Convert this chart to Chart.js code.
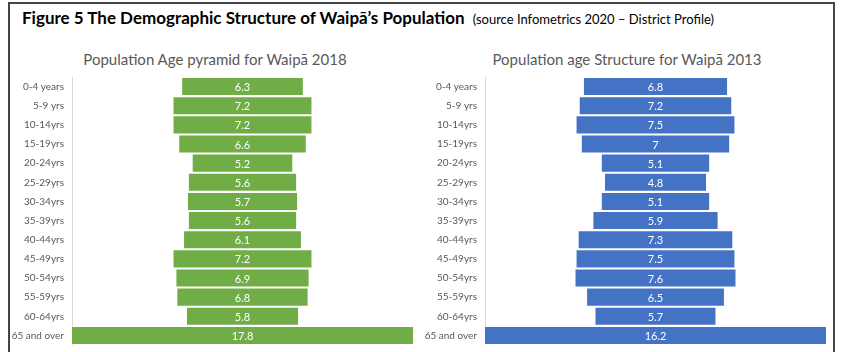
<!DOCTYPE html>
<html>
<head>
<meta charset="utf-8">
<script src="https://cdn.jsdelivr.net/npm/chart.js@4/dist/chart.umd.min.js"></script>
<style>
  html, body { margin: 0; padding: 0; background: #fff; }
  body { width: 851px; height: 352px; position: relative; overflow: hidden; font-family: Lato, "Open Sans", sans-serif; }
  #frame { position: absolute; left: 8px; top: 2px; width: 823px; height: 360px; border: 2px solid #444; border-bottom: none; }
  #title { position: absolute; left: 22px; top: 7px; font-size: 17px; font-weight: bold; color: #000; white-space: nowrap; }
  #title span { font-size: 13px; font-weight: normal; margin-left: 4px; }
  .ctitle { position: absolute; top: 50px; font-size: 15px; color: #595959; white-space: nowrap; transform: translateX(-50%); }
  .wrap { position: absolute; top: 77px; width: 403px; height: 268px; }
</style>
</head>
<body>
<div id="frame"></div>
<div id="title">Figure 5 The Demographic Structure of Waipā’s Population <span>(source Infometrics 2020 – District Profile)</span></div>
<div class="ctitle" style="left:215px">Population Age pyramid for Waipā 2018</div>
<div class="ctitle" style="left:627px">Population age Structure for Waipā 2013</div>
<div class="wrap" style="left:10px"><canvas id="chart2018"></canvas></div>
<div class="wrap" style="left:423px"><canvas id="chart2013"></canvas></div>
<script>
const ageGroups = ['0-4 years', '5-9 yrs', '10-14yrs', '15-19yrs', '20-24yrs', '25-29yrs', '30-34yrs',
  '35-39yrs', '40-44yrs', '45-49yrs', '50-54yrs', '55-59yrs', '60-64yrs', '65 and over'];
const share2018 = [6.3, 7.2, 7.2, 6.6, 5.2, 5.6, 5.7, 5.6, 6.1, 7.2, 6.9, 6.8, 5.8, 17.8];
const share2013 = [6.8, 7.2, 7.5, 7, 5.1, 4.8, 5.1, 5.9, 7.3, 7.5, 7.6, 6.5, 5.7, 16.2];

const labelFont = 'Lato, "Open Sans", sans-serif';

// writes the value in the middle of each bar
const centerLabels = {
  id: 'centerLabels',
  afterDatasetsDraw(chart) {
    const ctx = chart.ctx;
    const values = chart.data.datasets[0].values;
    ctx.save();
    ctx.fillStyle = '#ffffff';
    ctx.font = '11px ' + labelFont;
    ctx.textAlign = 'center';
    ctx.textBaseline = 'middle';
    chart.getDatasetMeta(0).data.forEach((bar, i) => {
      ctx.fillText(String(values[i]), (bar.x + bar.base) / 2, bar.y + 1);
    });
    ctx.restore();
  }
};

function funnel(id, values, color) {
  const half = Math.max(...values) / 2;
  new Chart(document.getElementById(id), {
    type: 'bar',
    data: {
      labels: ageGroups,
      datasets: [{
        data: values.map(v => [-v / 2, v / 2]),
        values: values,
        backgroundColor: color,
        barPercentage: 0.89,
        categoryPercentage: 1
      }]
    },
    options: {
      indexAxis: 'y',
      responsive: true,
      maintainAspectRatio: false,
      animation: false,
      layout: { padding: 0 },
      scales: {
        x: { display: false, min: -half, max: half },
        y: {
          afterFit: (scale) => {
            scale.width = 62;
            scale.paddingTop = 0;
            scale.paddingBottom = 0;
          },
          grid: { display: true, drawOnChartArea: false, drawTicks: false },
          border: { display: true, color: '#d9d9d9', width: 1 },
          ticks: { color: '#595959', padding: 8, font: { size: 10, family: labelFont } }
        }
      },
      plugins: { legend: { display: false }, tooltip: { enabled: false } }
    },
    plugins: [centerLabels]
  });
}

funnel('chart2018', share2018, '#70ad47');
funnel('chart2013', share2013, '#4472c4');
</script>
</body>
</html>
